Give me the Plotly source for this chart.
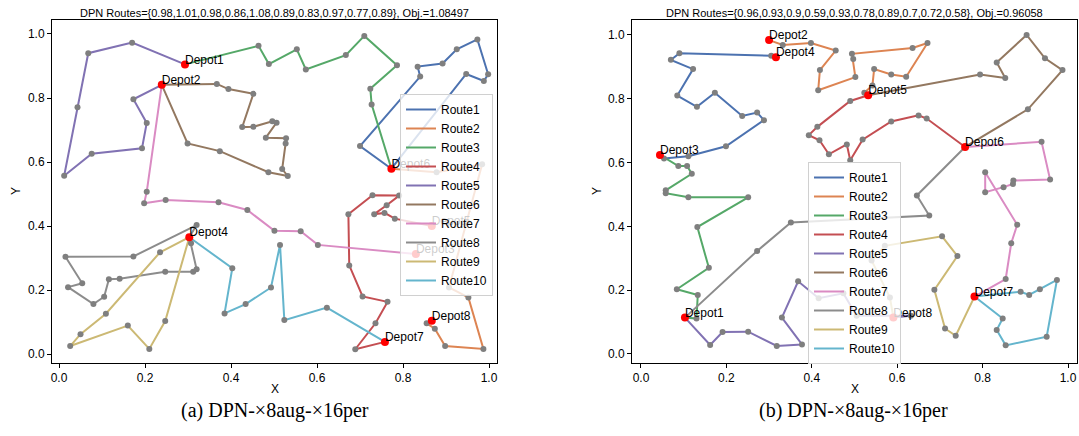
import plotly.graph_objects as go

# ---------------- data: left panel (a) ----------------
a_title = "DPN Routes={0.98,1.01,0.98,0.86,1.08,0.89,0.83,0.97,0.77,0.89}, Obj.=1.08497"
a_depot_x = [0.293, 0.239, 0.830, 0.303, 0.867, 0.773, 0.758, 0.867]
a_depot_y = [0.905, 0.841, 0.3125, 0.365, 0.400, 0.579, 0.038, 0.104]
a_start = [6, 6, 1, 5, 1, 2, 2, 4, 4, 4]
a_end = [6, 8, 6, 7, 2, 2, 3, 4, 4, 7]
a_route1 = [(0.700, 0.650), (0.840, 0.867), (0.834, 0.898), (0.892, 0.908), (0.925, 0.952),
            (0.973, 0.983), (0.998, 0.874), (0.988, 0.853), (0.947, 0.875)]
a_route2 = [(0.878, 0.568), (0.984, 0.593), (0.907, 0.208), (0.952, 0.177), (0.987, 0.016),
            (0.898, 0.025), (0.874, 0.079), (0.855, 0.096)]
a_route3 = [(0.464, 0.963), (0.488, 0.906), (0.553, 0.952), (0.574, 0.889), (0.667, 0.934),
            (0.710, 0.994), (0.786, 0.902), (0.724, 0.829), (0.727, 0.780)]
a_route4 = [(0.781, 0.423), (0.757, 0.441), (0.733, 0.437), (0.762, 0.465), (0.791, 0.495),
            (0.729, 0.496), (0.673, 0.437), (0.675, 0.277), (0.706, 0.180), (0.764, 0.163),
            (0.736, 0.096), (0.689, 0.015)]
a_route5 = [(0.170, 0.973), (0.068, 0.940), (0.043, 0.771), (0.012, 0.557), (0.076, 0.626),
            (0.193, 0.643), (0.204, 0.722), (0.173, 0.796)]
a_route6 = [(0.367, 0.844), (0.394, 0.828), (0.452, 0.813), (0.426, 0.709), (0.452, 0.710),
            (0.496, 0.727), (0.506, 0.723), (0.481, 0.676), (0.528, 0.674), (0.527, 0.658),
            (0.519, 0.578), (0.532, 0.556), (0.487, 0.568), (0.374, 0.634), (0.299, 0.658)]
a_route7 = [(0.204, 0.507), (0.198, 0.471), (0.248, 0.481), (0.371, 0.474), (0.438, 0.450),
            (0.501, 0.385), (0.562, 0.384), (0.602, 0.341)]
a_route8 = [(0.320, 0.403), (0.173, 0.305), (0.015, 0.304), (0.054, 0.221), (0.021, 0.209),
            (0.080, 0.156), (0.105, 0.179), (0.116, 0.234), (0.141, 0.235), (0.247, 0.257),
            (0.312, 0.257), (0.320, 0.265), (0.307, 0.346)]
a_route9 = [(0.235, 0.318), (0.109, 0.126), (0.050, 0.062), (0.026, 0.025), (0.160, 0.089),
            (0.210, 0.016), (0.247, 0.103)]
a_route10 = [(0.403, 0.268), (0.385, 0.127), (0.434, 0.156), (0.493, 0.208), (0.514, 0.341),
             (0.524, 0.106), (0.623, 0.145)]

# ---------------- data: right panel (b) ----------------
b_title = "DPN Routes={0.96,0.93,0.9,0.59,0.93,0.78,0.89,0.7,0.72,0.58}, Obj.=0.96058"
b_depot_x = [0.103, 0.300, 0.0445, 0.316, 0.532, 0.759, 0.781, 0.591]
b_depot_y = [0.114, 0.984, 0.624, 0.930, 0.811, 0.649, 0.180, 0.114]
b_start = [3, 2, 3, 5, 1, 5, 6, 1, 8, 7]
b_end = [4, 5, 1, 6, 8, 6, 7, 6, 7, 7]
b_route1 = [(0.054, 0.613), (0.111, 0.620), (0.199, 0.651), (0.288, 0.733), (0.272, 0.757),
            (0.237, 0.746), (0.173, 0.819), (0.131, 0.775), (0.085, 0.810), (0.122, 0.893),
            (0.070, 0.922), (0.090, 0.943), (0.305, 0.935)]
b_route2 = [(0.332, 0.969), (0.398, 0.975), (0.456, 0.951), (0.419, 0.890), (0.415, 0.827),
            (0.502, 0.868), (0.497, 0.925), (0.494, 0.941), (0.636, 0.959), (0.671, 0.975),
            (0.621, 0.869), (0.586, 0.876), (0.546, 0.893), (0.542, 0.842), (0.523, 0.819)]
b_route3 = [(0.0875, 0.589), (0.108, 0.589), (0.119, 0.565), (0.058, 0.513), (0.058, 0.504),
            (0.111, 0.491), (0.251, 0.491), (0.132, 0.398), (0.159, 0.270), (0.084, 0.203),
            (0.133, 0.185), (0.130, 0.111)]
b_route4 = [(0.490, 0.793), (0.413, 0.712), (0.393, 0.686), (0.418, 0.670), (0.440, 0.626),
            (0.482, 0.657), (0.490, 0.607), (0.519, 0.672), (0.586, 0.729), (0.650, 0.748),
            (0.669, 0.738)]
b_route5 = [(0.162, 0.028), (0.191, 0.069), (0.251, 0.070), (0.318, 0.025), (0.377, 0.030),
            (0.330, 0.114), (0.368, 0.228), (0.416, 0.175), (0.474, 0.190), (0.505, 0.120),
            (0.632, 0.120)]
b_route6 = [(0.794, 0.876), (0.853, 0.865), (0.833, 0.914), (0.903, 1.000), (0.946, 0.927),
            (0.987, 0.890), (0.906, 0.767)]
b_route7 = [(0.938, 0.665), (0.958, 0.547), (0.872, 0.544), (0.871, 0.533), (0.849, 0.523),
            (0.806, 0.507), (0.806, 0.570), (0.881, 0.405), (0.867, 0.347), (0.854, 0.235)]
b_route8 = [(0.272, 0.323), (0.351, 0.412), (0.675, 0.434), (0.646, 0.497)]
b_route9 = [(0.583, 0.177), (0.540, 0.293), (0.571, 0.339), (0.705, 0.369), (0.741, 0.307),
            (0.687, 0.201), (0.712, 0.080), (0.737, 0.057)]
b_route10 = [(0.889, 0.195), (0.909, 0.185), (0.934, 0.203), (0.974, 0.232), (0.950, 0.054),
             (0.854, 0.027), (0.833, 0.075), (0.847, 0.111)]

route_names = ["Route1", "Route2", "Route3", "Route4", "Route5",
               "Route6", "Route7", "Route8", "Route9", "Route10"]
depot_names = ["Depot1", "Depot2", "Depot3", "Depot4", "Depot5", "Depot6", "Depot7", "Depot8"]
tick_vals = [0.0, 0.2, 0.4, 0.6, 0.8, 1.0]
tick_text = ["0.0", "0.2", "0.4", "0.6", "0.8", "1.0"]
captions = ["(a) DPN-\u00d78aug-\u00d716per", "(b) DPN-\u00d78aug-\u00d716per"]

colors = ["#4C72B0", "#DD8452", "#55A868", "#C44E52", "#8172B3",
          "#937860", "#DA8BC3", "#8C8C8C", "#CCB974", "#64B5CD"]

SANS = "Liberation Sans, Arial, sans-serif"
SERIF = "Liberation Serif, Times New Roman, serif"

fig = go.Figure()


def add_panel(routes, starts, ends, dx, dy, xa, ya, legend, label_dy):
    cx, cy = [], []
    for i, pts in enumerate(routes):
        s, e = starts[i] - 1, ends[i] - 1
        xs = [dx[s]] + [p[0] for p in pts] + [dx[e]]
        ys = [dy[s]] + [p[1] for p in pts] + [dy[e]]
        cx += [p[0] for p in pts]
        cy += [p[1] for p in pts]
        fig.add_trace(go.Scatter(x=xs, y=ys, mode="lines", name=route_names[i],
                                 line=dict(color=colors[i], width=2),
                                 xaxis=xa, yaxis=ya, legend=legend))
    fig.add_trace(go.Scatter(x=cx, y=cy, mode="markers", showlegend=False,
                             marker=dict(color="#7f7f7f", size=6),
                             xaxis=xa, yaxis=ya))
    fig.add_trace(go.Scatter(x=dx, y=dy, mode="markers", showlegend=False,
                             marker=dict(color="red", size=8),
                             xaxis=xa, yaxis=ya))
    fig.add_trace(go.Scatter(x=dx, y=[v + label_dy for v in dy], mode="text", showlegend=False,
                             text=depot_names, textposition="middle right",
                             textfont=dict(family=SANS, size=12, color="black"),
                             xaxis=xa, yaxis=ya))


add_panel([a_route1, a_route2, a_route3, a_route4, a_route5, a_route6, a_route7,
           a_route8, a_route9, a_route10], a_start, a_end, a_depot_x, a_depot_y,
          "x", "y", "legend", 0.012)
add_panel([b_route1, b_route2, b_route3, b_route4, b_route5, b_route6, b_route7,
           b_route8, b_route9, b_route10], b_start, b_end, b_depot_x, b_depot_y,
          "x2", "y2", "legend2", 0.012)

W, H = 1079, 436
ax_common = dict(showline=True, mirror=True, linecolor="black", linewidth=1,
                 ticks="outside", ticklen=4, tickcolor="black", showgrid=False,
                 zeroline=False, tickvals=tick_vals, ticktext=tick_text, automargin=False,
                 tickfont=dict(family=SANS, size=12, color="black"))
ydom = [1 - 363 / H, 1 - 20 / H]
tfont = dict(family=SANS, size=12, color="black")

legend_common = dict(bgcolor="rgba(255,255,255,0.8)", bordercolor="#d0d0d0", borderwidth=1,
                     font=dict(family=SANS, size=12, color="black"),
                     xanchor="left", yanchor="middle", itemwidth=30, tracegroupgap=0)

fig.update_layout(
    width=W, height=H, margin=dict(l=0, r=0, t=0, b=0, autoexpand=False),
    paper_bgcolor="white", plot_bgcolor="white",
    xaxis=dict(domain=[52 / W, 497 / W], range=[-0.0163, 1.0186], anchor="y", **ax_common),
    yaxis=dict(domain=ydom, range=[-0.028, 1.0437], anchor="x", **ax_common),
    xaxis2=dict(domain=[632 / W, 1077 / W], range=[-0.021, 1.021], anchor="y2", **ax_common),
    yaxis2=dict(domain=ydom, range=[-0.0283, 1.047], anchor="x2", **ax_common),
    legend=dict(x=400 / W, y=1 - 195 / H, **legend_common),
    legend2=dict(x=808 / W, y=1 - 263 / H, **legend_common),
    showlegend=True,
)


def note(text, px, py, font, angle=0):
    fig.add_annotation(text=text, x=px / W, y=1 - py / H, xref="paper", yref="paper",
                       xanchor="center", yanchor="middle", showarrow=False,
                       font=font, textangle=angle)


note(a_title, 274.5, 13, dict(family=SANS, size=11, color="black"))
note(b_title, 854.5, 13, dict(family=SANS, size=11, color="black"))
note("X", 274.5, 389, tfont)
note("X", 854.5, 389, tfont)
note("Y", 16, 191, tfont, -90)
note("Y", 597, 191, tfont, -90)
note(captions[0], 275, 410, dict(family=SERIF, size=20, color="black"))
note(captions[1], 853, 410, dict(family=SERIF, size=20, color="black"))

fig.write_html("out.html", config={"displayModeBar": False},
               post_script="document.body.style.margin='0px';document.body.style.padding='0px';")
